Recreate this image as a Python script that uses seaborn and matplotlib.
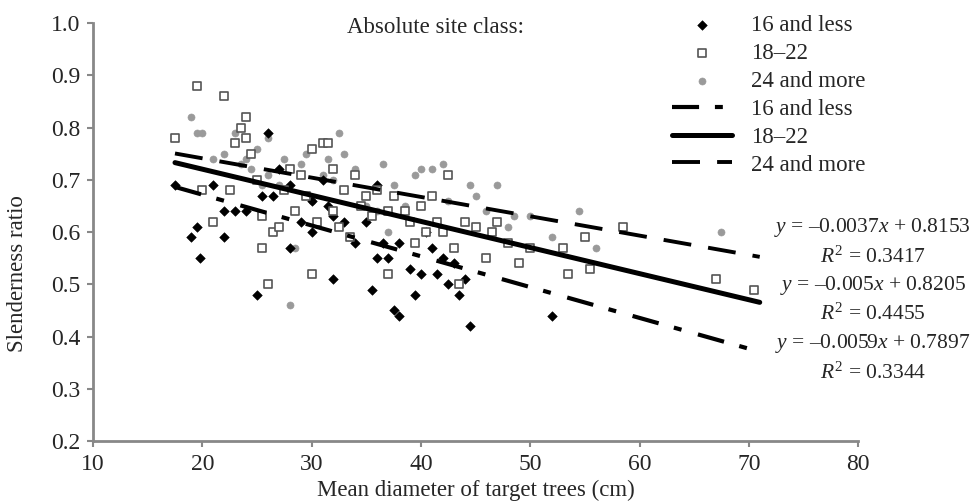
import pandas as pd
import matplotlib.pyplot as plt
import seaborn as sns

# Slenderness ratio vs. mean diameter, by absolute site class

# 16 and less
low_d = [17.5, 19, 19.5, 19.8, 21, 22, 22, 23, 24, 25, 25.5, 26, 26.5, 27, 28, 28,
         29, 30, 30, 31, 31.5, 32, 32, 33, 34, 35, 35.5, 36, 36, 36.5, 37, 37.5,
         38, 38, 39, 39.5, 40, 40.5, 41, 41.5, 42, 42.5, 43, 43.5, 44, 44.5, 52]
low_s = [0.69, 0.59, 0.61, 0.55, 0.69, 0.59, 0.64, 0.64, 0.64, 0.48, 0.67, 0.79, 0.67,
         0.72, 0.69, 0.57, 0.62, 0.60, 0.66, 0.70, 0.65, 0.51, 0.63, 0.62, 0.58, 0.62,
         0.49, 0.69, 0.55, 0.58, 0.55, 0.45, 0.44, 0.58, 0.53, 0.48, 0.52, 0.60, 0.57,
         0.52, 0.55, 0.50, 0.54, 0.48, 0.51, 0.42, 0.44]

# 18-22
mid_d = [17.5, 19.5, 20, 21, 22, 22.5, 23, 23.5, 24, 24, 24.5, 25, 25.5, 25.5, 26,
         26.5, 27, 27.5, 28, 28.5, 29, 29.5, 30, 30, 30.5, 31, 31.5, 32, 32, 32.5,
         33, 33.5, 34, 34.5, 35, 35.5, 36, 37, 37, 37.5, 38.5, 39, 39.5, 40, 40.5,
         41, 41.5, 42, 42.5, 43, 43.5, 44, 45, 46, 46.5, 47, 48, 49, 50, 53, 53.5,
         55, 55.5, 58.5, 67, 70.5]
mid_s = [0.78, 0.88, 0.68, 0.62, 0.86, 0.68, 0.77, 0.80, 0.82, 0.78, 0.75, 0.70, 0.57,
         0.63, 0.50, 0.60, 0.61, 0.68, 0.72, 0.64, 0.71, 0.67, 0.76, 0.52, 0.62, 0.77,
         0.77, 0.72, 0.64, 0.61, 0.68, 0.59, 0.71, 0.65, 0.67, 0.63, 0.68, 0.64, 0.52,
         0.67, 0.64, 0.62, 0.58, 0.65, 0.60, 0.67, 0.62, 0.60, 0.71, 0.57, 0.50, 0.62,
         0.61, 0.55, 0.60, 0.62, 0.58, 0.54, 0.57, 0.57, 0.52, 0.59, 0.53, 0.61, 0.51,
         0.49]

# 24 and more
high_d = [19, 19.5, 20, 21, 22, 23, 23.5, 24, 24.5, 25, 25.5, 26, 26, 27, 27.5, 28,
          28.5, 29, 29.5, 30, 31, 31.5, 32, 32.5, 33, 33, 34, 35, 36, 36.5, 37, 37.5,
          38.5, 39.5, 40, 41, 42, 42.5, 44.5, 45, 46, 47, 48, 48.5, 50, 52, 54.5, 56,
          67.5]
high_s = [0.82, 0.79, 0.79, 0.74, 0.75, 0.79, 0.73, 0.74, 0.72, 0.76, 0.69, 0.71, 0.78,
          0.69, 0.74, 0.46, 0.57, 0.73, 0.75, 0.66, 0.71, 0.74, 0.70, 0.79, 0.75, 0.68,
          0.72, 0.65, 0.64, 0.73, 0.60, 0.69, 0.65, 0.71, 0.72, 0.72, 0.73, 0.66, 0.69,
          0.67, 0.64, 0.69, 0.61, 0.63, 0.63, 0.59, 0.64, 0.57, 0.60]

# linear fits (slope, intercept, R2) as printed on the chart
fit_range = [17.5, 71]
fits = {
    "16 and less": (-0.0059, 0.7897, 0.3344),
    "18\u201322": (-0.005, 0.8205, 0.4455),
    "24 and more": (-0.0037, 0.8153, 0.3417),
}

sns.set_theme(style="white")
plt.rcParams["font.family"] = ["Liberation Serif", "DejaVu Serif"]
plt.rcParams["mathtext.fontset"] = "custom"
plt.rcParams["mathtext.rm"] = "Liberation Serif"
plt.rcParams["mathtext.it"] = "Liberation Serif:italic"

fig = plt.figure(figsize=(9.74, 5.04), dpi=100)
ax = fig.add_axes([0.0955, 0.125, 0.7855, 0.829])

sns.scatterplot(x=low_d, y=low_s, ax=ax, marker="D", s=24, color="black",
                edgecolor="black", label="16 and less", zorder=3)
sns.scatterplot(x=mid_d, y=mid_s, ax=ax, marker="s", s=36, facecolor="white",
                edgecolor="#555555", linewidth=1.2, label="18\u201322", zorder=3)
sns.scatterplot(x=high_d, y=high_s, ax=ax, marker="o", s=26, color="#9a9a9a",
                edgecolor="#9a9a9a", label="24 and more", zorder=2)

styles = {
    "16 and less": dict(lw=3.0, dashes=(6.5, 3.8, 1.9, 4.1)),
    "18\u201322": dict(lw=3.6),
    "24 and more": dict(lw=2.8, dashes=(7.2, 4.4)),
}
for name, (slope, icpt, r2) in fits.items():
    df = pd.DataFrame({"x": fit_range, "y": [slope * v + icpt for v in fit_range]})
    sns.lineplot(data=df, x="x", y="y", ax=ax, color="black", label=name,
                 zorder=4, lw=styles[name]["lw"])
    if "dashes" in styles[name]:
        ax.lines[-1].set_dashes(styles[name]["dashes"])

ax.set_xlim(10, 80)
ax.set_ylim(0.2, 1.0)
ax.set_xticks(range(10, 81, 10))
ax.set_yticks([0.2, 0.3, 0.4, 0.5, 0.6, 0.7, 0.8, 0.9, 1.0])
ax.set_yticklabels([f"{v:.1f}" for v in ax.get_yticks()])
ax.tick_params(labelsize=17, length=4, width=1.5, color="#888888", pad=5)
ax.tick_params(axis="x", bottom=True)
ax.tick_params(axis="y", left=True)
for side in ["top", "right"]:
    ax.spines[side].set_visible(False)
for side in ["left", "bottom"]:
    ax.spines[side].set_color("#888888")
    ax.spines[side].set_linewidth(2)
ax.set_xlabel("Mean diameter of target trees (cm)", fontsize=16.5, labelpad=4)
ax.set_ylabel("Slenderness ratio", fontsize=16.5)
ax.yaxis.set_label_coords(-0.085, 0.4)

fig.text(0.447, 0.945, "Absolute site class:", ha="center", va="center",
         fontsize=16.5)

ax.legend(loc="upper left", bbox_to_anchor=(0.688, 0.975),
          bbox_transform=fig.transFigure, frameon=False, fontsize=16.5,
          handlelength=2.6, labelspacing=0.3, handletextpad=0.85,
          borderpad=0.1, borderaxespad=0)

eq_y = [0.548, 0.490, 0.433, 0.377, 0.319, 0.260]
order = ["24 and more", "18\u201322", "16 and less"]
for i, name in enumerate(order):
    slope, icpt, r2 = fits[name]
    fig.text(0.896, eq_y[2 * i], f"$y$ = \u2013{abs(slope):g}$x$ + {icpt:.4f}",
             ha="center", va="center", fontsize=15.5)
    fig.text(0.896, eq_y[2 * i + 1], f"$R^2$ = {r2:.4f}",
             ha="center", va="center", fontsize=15.5)

fig.savefig("out.png", dpi=100)
